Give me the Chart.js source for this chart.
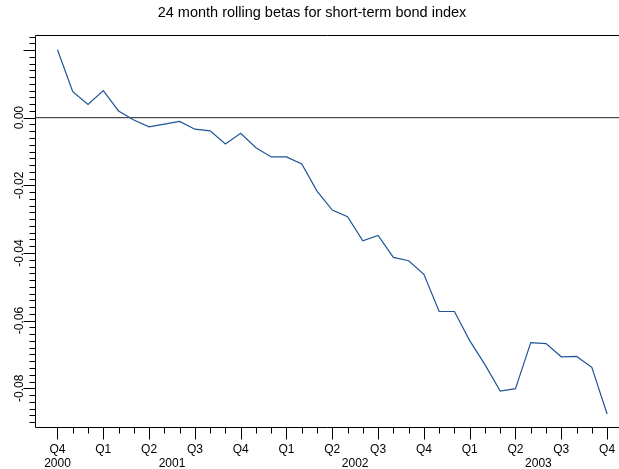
<!DOCTYPE html>
<html>
<head>
<meta charset="utf-8">
<script src="https://cdn.jsdelivr.net/npm/chart.js@4"></script>
<style>
  html, body { margin: 0; padding: 0; background: #ffffff; }
  canvas { display: block; }
</style>
</head>
<body>
<canvas id="chart" width="619" height="469"></canvas>
<script>
// Month of each rolling-window estimate
const months = [
  'Oct 2000', 'Nov 2000', 'Dec 2000',
  'Jan 2001', 'Feb 2001', 'Mar 2001', 'Apr 2001', 'May 2001', 'Jun 2001',
  'Jul 2001', 'Aug 2001', 'Sep 2001', 'Oct 2001', 'Nov 2001', 'Dec 2001',
  'Jan 2002', 'Feb 2002', 'Mar 2002', 'Apr 2002', 'May 2002', 'Jun 2002',
  'Jul 2002', 'Aug 2002', 'Sep 2002', 'Oct 2002', 'Nov 2002', 'Dec 2002',
  'Jan 2003', 'Feb 2003', 'Mar 2003', 'Apr 2003', 'May 2003', 'Jun 2003',
  'Jul 2003', 'Aug 2003', 'Sep 2003', 'Oct 2003'
];

// 24 month rolling beta of the short-term bond index
const betas = [
  0.0201, 0.0077, 0.0039, 0.0080, 0.0020, -0.0007, -0.0027, -0.0019, -0.0011,
  -0.0034, -0.0039, -0.0078, -0.0046, -0.0089, -0.0116, -0.0116, -0.0137, -0.0217,
  -0.0273, -0.0293, -0.0364, -0.0348, -0.0413, -0.0423, -0.0463, -0.0573, -0.0573,
  -0.0659, -0.0730, -0.0808, -0.0801, -0.0665, -0.0668, -0.0707, -0.0706, -0.0738,
  -0.0876
];

// Quarter labels, one every three months starting at the first month
const quarterLabels = ['Q4', 'Q1', 'Q2', 'Q3', 'Q4', 'Q1', 'Q2', 'Q3', 'Q4', 'Q1', 'Q2', 'Q3', 'Q4'];
const quarterIndex = [0, 3, 6, 9, 12, 15, 18, 21, 24, 27, 30, 33, 36];

// Year labels, centred under their quarters
const yearLabels = ['2000', '2001', '2002', '2003'];
const yearIndex = [0, 7.5, 19.5, 31.5];

// Value axis
const yMajorTicks = [0.02, 0, -0.02, -0.04, -0.06, -0.08];
const yTickValues = [0, -0.02, -0.04, -0.06, -0.08];
const yTickLabels = ['0.00', '-0.02', '-0.04', '-0.06', '-0.08'];

const title = '24 month rolling betas for short-term bond index';

const FONT = '"Liberation Sans", Arial, sans-serif';

const axesPlugin = {
  id: 'statAxes',
  beforeDatasetsDraw(chart) {
    const { ctx, chartArea: a, scales: { y } } = chart;
    const y0 = y.getPixelForValue(0);
    ctx.save();
    ctx.strokeStyle = '#222222';
    ctx.lineWidth = 1;
    ctx.beginPath();
    ctx.moveTo(a.left, y0);
    ctx.lineTo(a.right, y0);
    ctx.stroke();
    ctx.restore();
  },
  afterDraw(chart) {
    const { ctx, chartArea: a, scales: { x, y } } = chart;
    ctx.save();
    ctx.strokeStyle = '#000000';
    ctx.lineWidth = 1;

    // frame: top, left and bottom edges
    ctx.beginPath();
    ctx.moveTo(a.right, a.top);
    ctx.lineTo(a.left, a.top);
    ctx.lineTo(a.left, a.bottom);
    ctx.lineTo(a.right, a.bottom);
    ctx.stroke();

    // y ticks: minor every 0.002, major every 0.02
    ctx.beginPath();
    for (let k = -45; k <= 12; k++) {
      const py = Math.round(y.getPixelForValue(k * 0.002)) + 0.5;
      if (py < a.top - 1 || py > a.bottom + 1) continue;
      const major = yMajorTicks.some(v => Math.abs(v - k * 0.002) < 1e-9);
      ctx.moveTo(a.left, py);
      ctx.lineTo(a.left - (major ? 12 : 6), py);
    }
    ctx.stroke();

    // x ticks: minor monthly, major quarterly
    ctx.beginPath();
    for (let i = 0; i < months.length; i++) {
      const px = Math.round(x.getPixelForValue(i)) + 0.5;
      const major = quarterIndex.includes(i);
      ctx.moveTo(px, a.bottom);
      ctx.lineTo(px, a.bottom + (major ? 12 : 6));
    }
    ctx.stroke();

    ctx.fillStyle = '#000000';
    ctx.font = '12px ' + FONT;

    // y tick labels, rotated to read upward
    ctx.textAlign = 'center';
    ctx.textBaseline = 'alphabetic';
    yTickValues.forEach((v, j) => {
      const py = y.getPixelForValue(v);
      ctx.save();
      ctx.translate(22.5, py);
      ctx.rotate(-Math.PI / 2);
      ctx.fillText(yTickLabels[j], 0, 0);
      ctx.restore();
    });

    // quarter and year labels
    ctx.textBaseline = 'middle';
    quarterLabels.forEach((q, j) => {
      ctx.fillText(q, x.getPixelForValue(quarterIndex[j]), 450);
    });
    yearLabels.forEach((yr, j) => {
      ctx.fillText(yr, x.getPixelForValue(yearIndex[j]), 464);
    });

    // title
    ctx.font = '14.5px ' + FONT;
    ctx.fillText(title, 312, 13);
    ctx.restore();
  }
};

new Chart(document.getElementById('chart'), {
  type: 'line',
  data: {
    labels: months,
    datasets: [{
      label: 'Rolling beta',
      data: betas.map((v, i) => ({ x: i, y: v })),
      borderColor: '#1f5597',
      borderWidth: 1.2,
      pointRadius: 0,
      tension: 0,
      fill: false
    }]
  },
  options: {
    responsive: false,
    animation: false,
    devicePixelRatio: 1,
    layout: { padding: { left: 35.5, top: 35.5, right: 0, bottom: 41.5 } },
    plugins: { legend: { display: false }, tooltip: { enabled: false }, title: { display: false } },
    scales: {
      x: { type: 'linear', min: -1.44, max: 36.78, display: false },
      y: { type: 'linear', min: -0.0916, max: 0.0243, display: false }
    }
  },
  plugins: [axesPlugin]
});
</script>
</body>
</html>
